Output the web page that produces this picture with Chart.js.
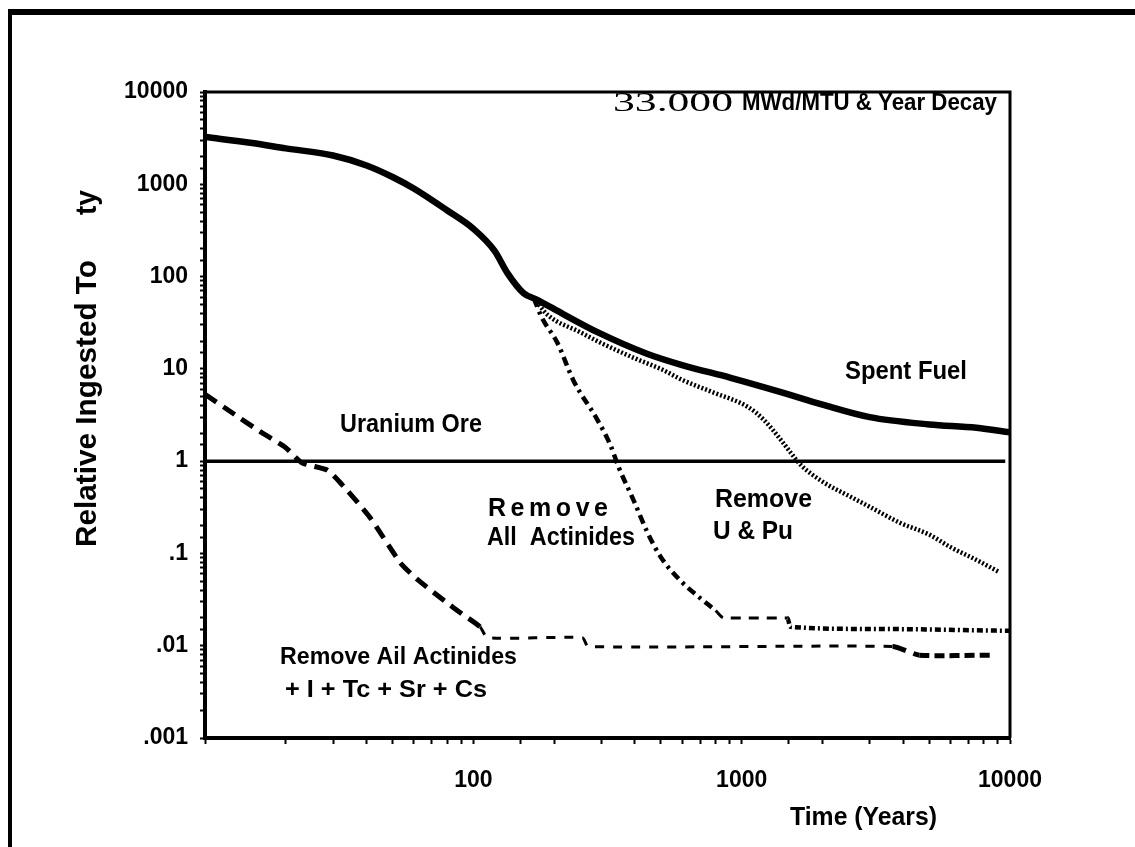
<!DOCTYPE html>
<html>
<head>
<meta charset="utf-8">
<script src="https://cdn.jsdelivr.net/npm/chart.js@4.4.1/dist/chart.umd.min.js"></script>
<style>
  html, body { margin: 0; padding: 0; background: #fff; }
  #wrap { width: 1135px; height: 847px; position: relative; }
</style>
</head>
<body>
<div id="wrap"><canvas id="toxChart"></canvas></div>
<script>
// years after discharge / relative ingestion toxicity
const spentYears = [10, 15, 20, 30, 40, 50, 60, 80, 100, 120, 134, 154, 173, 217, 290, 446, 600, 910, 1400, 2000, 3000, 5000, 7500, 10000];
const spentTox   = [3250, 2800, 2450, 2050, 1600, 1200, 900, 520, 330, 190, 109, 66, 56, 39, 25, 14.5, 11, 8.0, 5.6, 4.1, 3.0, 2.5, 2.3, 2.05];

const uPuYears = [168, 190, 250, 300, 400, 510, 600, 790, 1050, 1210, 1400, 1525, 1660, 2000, 2550, 3000, 3900, 5000, 6000, 7500, 9100];
const uPuTox   = [58, 38, 25, 19, 13, 9.7, 7.6, 5.5, 3.9, 2.8, 1.7, 1.23, 0.91, 0.6, 0.41, 0.32, 0.214, 0.16, 0.117, 0.085, 0.063];

const allActYears = [168, 180, 206, 236, 290, 324, 348, 395, 445, 500, 590, 690, 800, 860, 1480, 1520, 3000, 10000];
const allActTox   = [58, 36, 19, 7.5, 2.8, 1.5, 0.86, 0.38, 0.17, 0.091, 0.051, 0.034, 0.024, 0.020, 0.020, 0.016, 0.0152, 0.0145];

const fpYears = [10, 12.7, 16, 20, 23, 28.5, 32, 41, 53.5, 62, 80, 90, 106, 113, 255, 268, 3650, 4600, 8500];
const fpTox   = [5.3, 3.3, 2.1, 1.4, 0.96, 0.80, 0.58, 0.25, 0.079, 0.052, 0.029, 0.0225, 0.016, 0.0122, 0.0122, 0.0098, 0.0098, 0.0079, 0.0079];

const oreYears = [10, 9600];
const oreTox   = [1, 1];

const xTickLabels = { 100: '100', 1000: '1000', 10000: '10000' };
const yTickLabels = { 10000: '10000', 1000: '1000', 100: '100', 10: '10', 1: '1', 0.1: '.1', 0.01: '.01', 0.001: '.001' };

const pts = (xs, ys) => xs.map((x, i) => ({ x: x, y: ys[i] }));

function decadeLabel(v, table) {
    const lg = Math.log10(v);
    if (Math.abs(lg - Math.round(lg)) > 1e-6) return '';
    const key = Math.pow(10, Math.round(lg));
    for (const k in table) {
        if (Math.abs(Number(k) - key) / key < 1e-6) return table[k];
    }
    return '';
}

function fitText(ctx, str, x, y, size, width, opts) {
    opts = opts || {};
    ctx.save();
    ctx.fillStyle = '#000';
    ctx.font = (opts.weight || 'bold') + ' ' + size + 'px ' + (opts.family || '"Liberation Sans", Arial, sans-serif');
    ctx.textBaseline = 'middle';
    ctx.textAlign = 'left';
    if (opts.spread) {
        const chars = [...str];
        const ws = chars.map(c => ctx.measureText(c).width);
        const total = ws.reduce((a, b) => a + b, 0);
        const gap = (width - total) / (chars.length - 1);
        let cx = x;
        chars.forEach((c, i) => { ctx.fillText(c, cx, y); cx += ws[i] + gap; });
    } else {
        const w = ctx.measureText(str).width;
        ctx.translate(x, y);
        ctx.scale(width / w, 1);
        ctx.fillText(str, 0, 0);
    }
    ctx.restore();
}

const figureDecor = {
    id: 'figureDecor',
    beforeDraw(chart) {
        const ctx = chart.ctx;
        ctx.save();
        ctx.fillStyle = '#fff';
        ctx.fillRect(0, 0, chart.width, chart.height);
        ctx.restore();
    },
    afterDraw(chart) {
        const ctx = chart.ctx;
        const a = chart.chartArea;
        ctx.save();
        // outer figure frame (top bar + left edge)
        ctx.fillStyle = '#000';
        ctx.fillRect(8, 9, 1127, 6);
        ctx.fillRect(8, 9, 4, 838);
        // plot box top and right
        ctx.strokeStyle = '#000';
        ctx.lineWidth = 3;
        ctx.beginPath();
        ctx.moveTo(a.left, a.top);
        ctx.lineTo(a.right, a.top);
        ctx.lineTo(a.right, a.bottom);
        ctx.stroke();
        ctx.restore();

        fitText(ctx, '33.000', 613, 104, 28, 120, { weight: 'normal', family: '"Liberation Serif", "Times New Roman", serif' });
        fitText(ctx, 'MWd/MTU & Year Decay', 742, 103, 24, 255);
        fitText(ctx, 'Spent Fuel', 845, 372, 25, 122);
        fitText(ctx, 'Uranium Ore', 340, 425, 25, 142);
        fitText(ctx, 'Remove', 488, 509, 25, 120, { spread: true });
        fitText(ctx, 'All  Actinides', 487, 538, 25, 148);
        fitText(ctx, 'Remove', 715, 500, 25, 97);
        fitText(ctx, 'U & Pu', 713, 532, 25, 80);
        fitText(ctx, 'Remove Ail Actinides', 280, 657, 24, 237);
        fitText(ctx, '+ I + Tc + Sr + Cs', 285, 690, 24, 202);
        fitText(ctx, 'Time (Years)', 790, 818, 25, 147);

        ctx.save();
        ctx.translate(88, 547);
        ctx.rotate(-Math.PI / 2);
        fitText(ctx, 'Relative Ingested To', 0, 0, 29, 287);
        fitText(ctx, 'ty', 332, 0, 29, 25);
        ctx.restore();
    }
};

const ctx = document.getElementById('toxChart').getContext('2d');

new Chart(ctx, {
    type: 'line',
    data: {
        datasets: [{
            label: 'Spent Fuel',
            data: pts(spentYears, spentTox),
            borderColor: '#000',
            borderWidth: 6.5,
            cubicInterpolationMode: 'monotone'
        }, {
            label: 'Uranium Ore',
            data: pts(oreYears, oreTox),
            borderColor: '#000',
            borderWidth: 3.5
        }, {
            label: 'Remove U & Pu',
            data: pts(uPuYears, uPuTox),
            borderColor: '#000',
            borderWidth: 4.5,
            borderDash: [2, 2],
            cubicInterpolationMode: 'monotone'
        }, {
            label: 'Remove All Actinides',
            data: pts(allActYears, allActTox),
            borderColor: '#000',
            borderWidth: 4.5,
            cubicInterpolationMode: 'monotone',
            segment: {
                borderDash: c => {
                    const x = c.p0.parsed.x;
                    if (x >= 800 && x < 1480) return [10, 8];
                    if (x >= 1480) return [6, 3, 2, 3];
                    return [9, 5, 3, 5];
                },
                borderWidth: c => (c.p0.parsed.x >= 800 && c.p0.parsed.x < 1480) ? 3 : 4.5
            }
        }, {
            label: 'Remove All Actinides + I + Tc + Sr + Cs',
            data: pts(fpYears, fpTox),
            borderColor: '#000',
            borderWidth: 5,
            tension: 0.2,
            segment: {
                borderDash: c => {
                    const x = c.p0.parsed.x;
                    if (x >= 106 && x < 3650) return [9, 9];
                    if (x >= 4600) return [10, 5];
                    return [14, 8];
                },
                borderWidth: c => {
                    const x = c.p0.parsed.x;
                    return (x >= 106 && x < 3650) ? 3 : 5;
                }
            }
        }]
    },
    options: {
        responsive: true,
        maintainAspectRatio: false,
        animation: false,
        elements: { point: { radius: 0 } },
        layout: { padding: { left: 0, top: 92, right: 125, bottom: 0 } },
        scales: {
            x: {
                type: 'logarithmic',
                min: 10,
                max: 10000,
                afterFit: s => { s.height = 109; },
                border: { display: true, color: '#000', width: 4 },
                grid: { drawOnChartArea: false, drawTicks: true, tickLength: 6, tickWidth: 2, tickColor: '#000' },
                ticks: {
                    autoSkip: false,
                    maxRotation: 0,
                    padding: 23,
                    color: '#000',
                    font: { family: '"Liberation Sans", Arial, sans-serif', size: 23, weight: 'bold' },
                    callback: v => decadeLabel(v, xTickLabels)
                }
            },
            y: {
                type: 'logarithmic',
                min: 0.001,
                max: 10000,
                afterFit: s => { s.width = 205; },
                border: { display: true, color: '#000', width: 4 },
                grid: { drawOnChartArea: false, drawTicks: true, tickLength: 5, tickWidth: 2, tickColor: '#000' },
                ticks: {
                    autoSkip: false,
                    padding: 12,
                    color: '#000',
                    font: { family: '"Liberation Sans", Arial, sans-serif', size: 23, weight: 'bold' },
                    callback: v => decadeLabel(v, yTickLabels)
                }
            }
        },
        plugins: {
            legend: { display: false },
            tooltip: { enabled: false }
        }
    },
    plugins: [figureDecor]
});
</script>
</body>
</html>
